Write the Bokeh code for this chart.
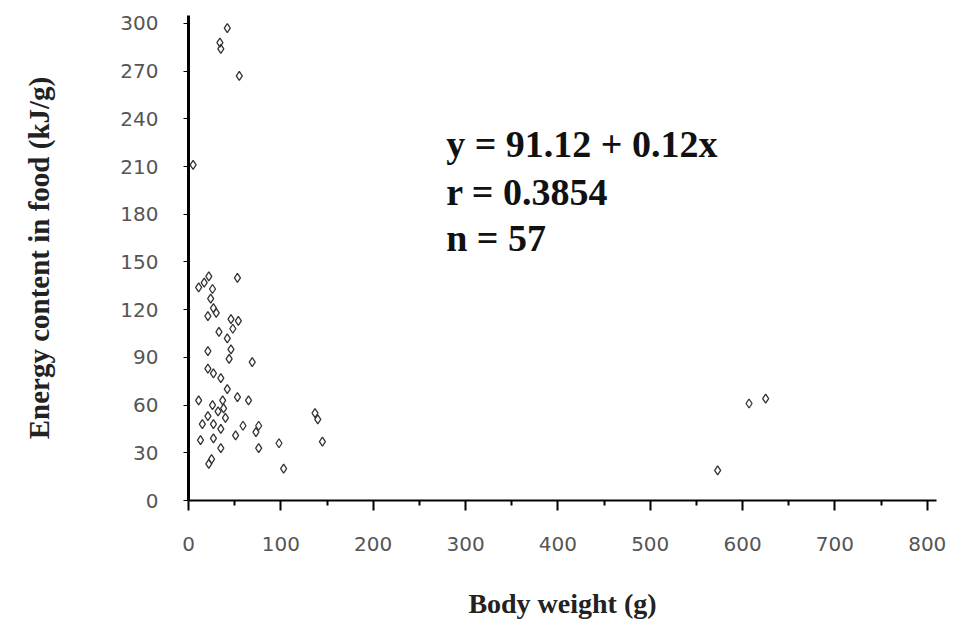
from bokeh.plotting import figure
from bokeh.models import Label, FixedTicker, Range1d
from bokeh.embed import file_html
from bokeh.resources import INLINE

# Body weight (g)
weight = [42, 35, 34, 55, 5,
          22, 53, 11, 26, 24, 27, 21, 46, 54, 33, 48,
          21, 46, 44, 69, 21, 27, 35,
          11, 37, 53, 65, 26, 38, 21, 40, 27, 59, 76, 35,
          140, 13, 27, 51, 73, 35, 76, 98, 145, 22, 25, 103,
          17, 30, 42, 15, 32, 137,
          573, 607, 625, 42]
# Energy content in food (kJ/g)
energy = [297, 284, 288, 267, 211,
          141, 140, 134, 133, 127, 121, 116, 114, 113, 106, 108,
          94, 95, 89, 87, 83, 80, 77,
          63, 63, 65, 63, 60, 58, 53, 52, 48, 47, 47, 45,
          51, 38, 39, 41, 43, 33, 33, 36, 37, 23, 26, 20,
          137, 118, 102, 48, 56, 55,
          19, 61, 64, 70]

x_ticks = [0, 100, 200, 300, 400, 500, 600, 700, 800]
x_minor = [50, 150, 250, 350, 450, 550, 650, 750]
y_ticks = [0, 30, 60, 90, 120, 150, 180, 210, 240, 270, 300]
stats = ["y = 91.12 + 0.12x", "r = 0.3854", "n = 57"]
stats_y = [224, 194, 165]

p = figure(width=947, height=621, output_backend="svg", toolbar_location=None,
           x_range=Range1d(0, 810), y_range=Range1d(0, 305),
           min_border_left=188, min_border_right=11, min_border_top=15,
           min_border_bottom=110)
p.outline_line_color = None
p.grid.grid_line_color = None

p.scatter(weight, energy, marker="diamond", size=9, fill_color=None,
          line_color="#333333", line_width=1.3)

serif = "Liberation Serif"
sans = "DejaVu Sans"

p.xaxis.ticker = FixedTicker(ticks=x_ticks, minor_ticks=x_minor)
p.yaxis.ticker = FixedTicker(ticks=y_ticks)
p.xaxis.axis_line_width = 2
p.yaxis.axis_line_width = 3
p.xaxis.major_tick_out = 10
p.xaxis.major_tick_in = 0
p.xaxis.major_tick_line_width = 2
p.xaxis.minor_tick_out = 5
p.xaxis.minor_tick_in = 0
p.xaxis.minor_tick_line_width = 2
p.yaxis.major_tick_out = 5
p.yaxis.major_tick_in = 0
p.yaxis.minor_tick_line_color = None
p.xaxis.major_label_standoff = 26
p.yaxis.major_label_standoff = 25
for ax in (p.xaxis, p.yaxis):
    ax.major_label_text_font = sans
    ax.major_label_text_font_size = "20px"
    ax.major_label_text_color = "#555555"
    ax.major_label_text_font_style = "normal"
    ax.axis_label_text_font = serif
    ax.axis_label_text_font_style = "bold"
    ax.axis_label_text_color = "#222222"

p.xaxis.axis_label = "Body weight (g)"
p.yaxis.axis_label = "Energy content in food (kJ/g)"
p.xaxis.axis_label_text_font_size = "28px"
p.yaxis.axis_label_text_font_size = "29px"
p.xaxis.axis_label_standoff = 34
p.yaxis.axis_label_standoff = 62

for t, yy in zip(stats, stats_y):
    p.add_layout(Label(x=279, y=yy, text=t, text_font=serif,
                       text_font_style="bold", text_font_size="38px",
                       text_color="#111111", text_baseline="alphabetic"))

open("out.html", "w").write(file_html(p, INLINE))
